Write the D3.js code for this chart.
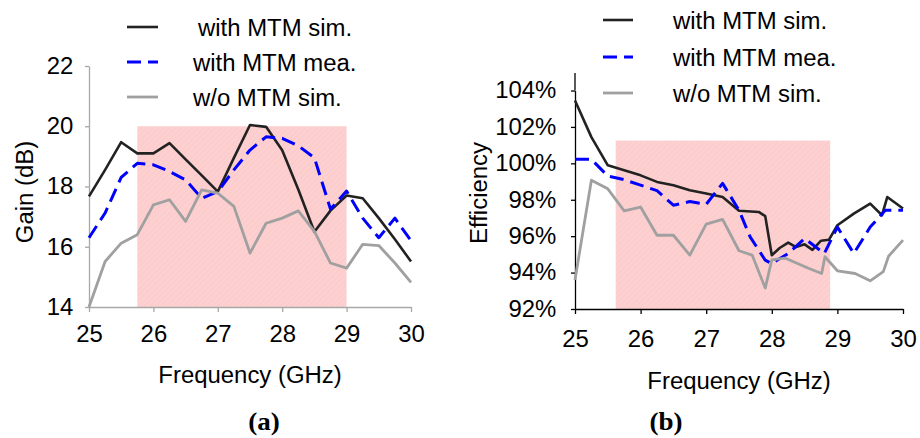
<!DOCTYPE html>
<html>
<head>
<meta charset="utf-8">
<script src="https://cdn.jsdelivr.net/npm/d3@7"></script>
<style>
  body { margin: 0; background: #fff; }
  svg text { font-family: "Liberation Sans", Arial, sans-serif; fill: #000; }
</style>
</head>
<body>
<svg id="chart" width="920" height="438"></svg>
<script>
// ---------- data ----------
const seriesNames = ["with MTM sim.", "with MTM mea.", "w/o MTM sim."];

// (a) gain, 0.25 GHz steps
const gainFreq = [25, 25.25, 25.5, 25.75, 26, 26.25, 26.5, 26.75, 27, 27.25, 27.5,
                  27.75, 28, 28.25, 28.5, 28.75, 29, 29.25, 29.5, 29.75, 30];
const gainSim = [17.67, 18.55, 19.47, 19.1, 19.1, 19.44, 18.9, 18.37, 17.83, 18.95, 20.04,
                 19.98, 19.2, 17.9, 16.5, 17.2, 17.7, 17.61, 16.95, 16.25, 15.51];
const gainMea = [16.3, 17.12, 18.3, 18.77, 18.72, 18.5, 18.22, 17.61, 17.83, 18.55, 19.21,
                 19.65, 19.6, 19.35, 18.95, 17.25, 17.85, 16.95, 16.3, 16.95, 16.2];
const gainNo = [14.0, 15.51, 16.12, 16.4, 17.39, 17.56, 16.84, 17.89, 17.78, 17.34, 15.79,
                16.78, 16.95, 17.19, 16.51, 15.46, 15.29, 16.08, 16.04, 15.46, 14.82];

// (b) efficiency (%)
const effSimFreq = [25, 25.25, 25.5, 25.75, 26, 26.25, 26.5, 26.75, 27, 27.25, 27.5, 27.8, 27.9,
                    28, 28.12, 28.25, 28.37, 28.5, 28.62, 28.75, 28.87, 29, 29.25, 29.5, 29.68, 29.76, 30];
const effSim = [103.45, 101.44, 99.89, 99.62, 99.34, 98.98, 98.8, 98.52, 98.34, 98.15, 97.4, 97.33, 97.1,
                94.95, 95.35, 95.65, 95.4, 95.55, 95.25, 95.75, 95.8, 96.6, 97.24, 97.79, 97.15, 98.15, 97.52];
const effMeaFreq = [25, 25.25, 25.5, 25.75, 26, 26.25, 26.5, 26.75, 27, 27.25, 27.5, 27.67, 27.9,
                    28, 28.25, 28.5, 28.8, 29, 29.25, 29.5, 29.73, 30];
const effMea = [100.22, 100.22, 99.3, 99.1, 98.8, 98.5, 97.7, 97.9, 97.75, 98.9, 97.42, 95.96, 94.68,
                94.5, 95.05, 95.87, 95.05, 96.5, 95.05, 96.5, 97.42, 97.42];
const effNoFreq = [25, 25.25, 25.5, 25.75, 26, 26.25, 26.5, 26.75, 27, 27.25, 27.5, 27.7, 27.9,
                   28, 28.2, 28.55, 28.76, 28.81, 29, 29.27, 29.5, 29.7, 29.78, 30];
const effNo = [93.6, 99.07, 98.6, 97.39, 97.6, 96.05, 96.05, 94.96, 96.66, 96.92, 95.2, 94.96, 93.15,
               94.7, 94.8, 94.25, 93.95, 94.87, 94.1, 93.95, 93.55, 94.05, 94.9, 95.78];

const xTicks = [25, 26, 27, 28, 29, 30];
const gainTicks = [14, 16, 18, 20, 22];
const effTicks = [92, 94, 96, 98, 100, 102, 104];
const gainBand = { x0: 25.75, x1: 29.0, y0: 14, y1: 20 };
const effBand = { x0: 25.62, x1: 28.89, y0: 92, y1: 101.25 };

// ---------- styling ----------
const SX = 1.04;       // glyphs in the picture are a bit wider than Arial
const FS = 23;
const styles = [
  { color: "#222", width: 2.6, dash: null },
  { color: "#0000ff", width: 3, dash: "14,7" },
  { color: "#a0a0a0", width: 2.8, dash: null }
];

const svg = d3.select("#chart");

const defs = svg.append("defs");
const pat = defs.append("pattern")
    .attr("id", "hatch")
    .attr("patternUnits", "userSpaceOnUse")
    .attr("width", 4).attr("height", 4)
    .attr("patternTransform", "rotate(45)");
pat.append("rect").attr("width", 4).attr("height", 4).attr("fill", "#fdcdcd");
pat.append("line").attr("x1", 0).attr("y1", 0).attr("x2", 0).attr("y2", 4)
    .attr("stroke", "#fbd9d9").attr("stroke-width", 1);

function label(g, x, y, txt, opts) {
    opts = opts || {};
    return g.append("text")
        .attr("transform", `translate(${x},${y}) ${opts.rotate ? "rotate(-90)" : ""} scale(${SX},1)`)
        .attr("text-anchor", opts.anchor || "start")
        .style("font-size", (opts.size || FS) + "px")
        .style("font-family", opts.family || null)
        .style("font-weight", opts.weight || null)
        .text(txt);
}

function drawPanel(p) {
    const g = svg.append("g");
    const x = d3.scaleLinear().domain([25, 30]).range(p.xRange);
    const y = d3.scaleLinear().domain(p.yDomain).range(p.yRange);

    // shaded band
    g.append("rect")
        .attr("x", x(p.band.x0))
        .attr("y", y(p.band.y1))
        .attr("width", x(p.band.x1) - x(p.band.x0))
        .attr("height", y(p.band.y0) - y(p.band.y1))
        .attr("fill", "url(#hatch)");

    // axes
    const yAxis = g.append("g")
        .attr("transform", `translate(${p.xRange[0]},0)`)
        .call(d3.axisLeft(y).tickValues(p.yTicks).tickSizeInner(4).tickSizeOuter(0)
              .tickPadding(p.yPad).tickFormat(p.yFmt));
    const xAxis = g.append("g")
        .attr("transform", `translate(0,${p.yRange[0]})`)
        .call(d3.axisBottom(x).tickValues(xTicks).tickSizeInner(5).tickSizeOuter(0)
              .tickPadding(p.xPad).tickFormat(d3.format("d")));
    [xAxis, yAxis].forEach(a => {
        a.select(".domain").attr("stroke", p.axisColor).attr("stroke-width", 1.3);
        a.selectAll(".tick line").attr("stroke", p.axisColor).attr("stroke-width", 1.3);
        a.selectAll(".tick text")
            .attr("transform", `scale(${SX},1)`)
            .style("font-size", FS + "px")
            .attr("fill", "#000");
    });
    if (p.yTop != null) {
        g.append("line")
            .attr("x1", p.xRange[0]).attr("x2", p.xRange[0])
            .attr("y1", p.yTop).attr("y2", p.yRange[1])
            .attr("stroke", p.axisColor).attr("stroke-width", 1.3);
    }

    // lines
    const line = d3.line().x(d => x(d[0])).y(d => y(d[1]));
    p.series.forEach((s, i) => {
        const pts = s.f.map((f, j) => [f, s.v[j]]);
        g.append("path")
            .datum(pts)
            .attr("d", line)
            .attr("fill", "none")
            .attr("stroke", styles[i].color)
            .attr("stroke-width", styles[i].width)
            .attr("stroke-dasharray", styles[i].dash)
            .attr("stroke-linejoin", "round");
    });

    // legend
    seriesNames.forEach((name, i) => {
        const ly = p.legend.y[i];
        g.append("line")
            .attr("x1", p.legend.x0).attr("x2", p.legend.x1)
            .attr("y1", ly).attr("y2", ly)
            .attr("stroke", styles[i].color)
            .attr("stroke-width", styles[i].width)
            .attr("stroke-dasharray", styles[i].dash);
        label(g, p.legend.tx[i], ly + 8.5, name);
    });

    // titles
    label(g, p.yTitle[0], p.yTitle[1], p.yLabel, { rotate: true, anchor: "middle" });
    label(g, p.xTitle[0], p.xTitle[1], "Frequency (GHz)", { anchor: "middle" });
    label(g, p.cap[0], p.cap[1], p.capText,
          { anchor: "middle", size: 26, weight: "bold", family: "'Liberation Serif', 'Times New Roman', serif" });
}

drawPanel({
    xRange: [89, 411], yDomain: [14, 22], yRange: [307, 66],
    yTicks: gainTicks, yFmt: d3.format("d"), yPad: 11, xPad: 14,
    axisColor: "#a8a8a8", yTop: null, band: gainBand,
    series: [{ f: gainFreq, v: gainSim }, { f: gainFreq, v: gainMea }, { f: gainFreq, v: gainNo }],
    legend: { x0: 127, x1: 158, y: [27, 62, 97], tx: [198, 193, 193] },
    yLabel: "Gain (dB)", yTitle: [33, 192], xTitle: [250, 383],
    cap: [264, 430], capText: "(a)"
});

drawPanel({
    xRange: [575, 903], yDomain: [92, 104], yRange: [309, 90.5],
    yTicks: effTicks, yFmt: d => d + "%", yPad: 14, xPad: 17,
    axisColor: "#000", yTop: 73, band: effBand,
    series: [{ f: effSimFreq, v: effSim }, { f: effMeaFreq, v: effMea }, { f: effNoFreq, v: effNo }],
    legend: { x0: 603, x1: 633, y: [20, 57, 93], tx: [673, 673, 673] },
    yLabel: "Efficiency", yTitle: [487, 193], xTitle: [739, 389],
    cap: [666, 430], capText: "(b)"
});
</script>
</body>
</html>
